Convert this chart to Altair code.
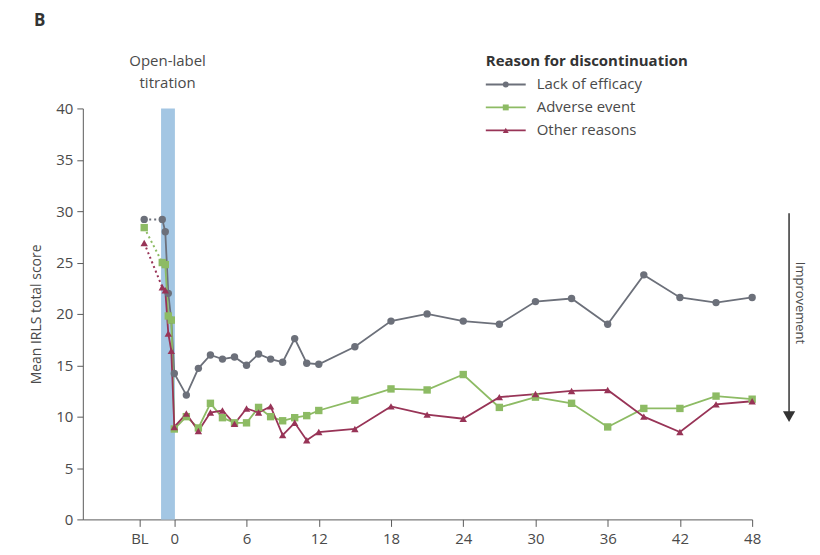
import altair as alt
import pandas as pd

# ---------------- data ----------------
series_names = ["Lack of efficacy", "Adverse event", "Other reasons"]
series_colors = ["#6c707a", "#8dbb64", "#983457"]
series_shapes = ["circle", "square", "triangle-up"]

bl_week = -2.5
titration_weeks = [-1.0, -0.75, -0.5, -0.25]
main_weeks = [0, 1, 2, 3, 4, 5, 6, 7, 8, 9, 10, 11, 12, 15, 18, 21, 24, 27, 30, 33, 36, 39, 42, 45, 48]

bl_values = [29.2, 28.4, 26.9]

lack_titration = [29.2, 28.0, 22.0, 19.4]
lack_main = [14.2, 12.1, 14.7, 16.0, 15.6, 15.8, 15.0, 16.1, 15.6, 15.3, 17.6, 15.2, 15.1,
             16.8, 19.3, 20.0, 19.3, 19.0, 21.2, 21.5, 19.0, 23.8, 21.6, 21.1, 21.6]

adverse_titration = [25.0, 24.8, 19.8, 19.4]
adverse_main = [8.8, 10.0, 8.9, 11.3, 9.9, 9.4, 9.4, 10.9, 10.0, 9.6, 9.9, 10.1, 10.6,
                11.6, 12.7, 12.6, 14.1, 10.9, 11.9, 11.3, 9.0, 10.8, 10.8, 12.0, 11.7]

other_titration = [22.6, 22.3, 18.1, 16.4]
other_main = [9.0, 10.3, 8.6, 10.4, 10.6, 9.3, 10.8, 10.4, 11.0, 8.2, 9.4, 7.7, 8.5,
              8.8, 11.0, 10.2, 9.8, 11.9, 12.2, 12.5, 12.6, 10.0, 8.5, 11.2, 11.5]

band_start = [-1.1]
band_end = [0.05]

x_tick_values = [-2.9, 0, 6, 12, 18, 24, 30, 36, 42, 48]
y_tick_values = [0, 5, 10, 15, 20, 25, 30, 35, 40]

# ---------------- tables ----------------
titr = [lack_titration, adverse_titration, other_titration]
mains = [lack_main, adverse_main, other_main]

solid_rows, dotted_rows, point_rows = [], [], []
for i, name in enumerate(series_names):
    dotted_rows.append({"week": bl_week, "value": bl_values[i], "series": name})
    dotted_rows.append({"week": titration_weeks[0], "value": titr[i][0], "series": name})
    point_rows.append({"week": bl_week, "value": bl_values[i], "series": name})
    for w, v in zip(titration_weeks + main_weeks, titr[i] + mains[i]):
        solid_rows.append({"week": w, "value": v, "series": name})
        point_rows.append({"week": w, "value": v, "series": name})

solid_df = pd.DataFrame(solid_rows)
dotted_df = pd.DataFrame(dotted_rows)
point_df = pd.DataFrame(point_rows)
band_df = pd.DataFrame({"x": band_start, "x2": band_end, "y": [0], "y2": [40]})

FONT = "Open Sans"
TXT = "#4a4a4a"

x_scale = alt.Scale(domain=[-7.6, 48], nice=False, zero=False)
y_scale = alt.Scale(domain=[0, 40], nice=False)
color_scale = alt.Scale(domain=series_names, range=series_colors)
shape_scale = alt.Scale(domain=series_names, range=series_shapes)

x_axis = alt.Axis(values=x_tick_values, title=None, grid=False,
                  labelExpr="datum.value < -1 ? 'BL' : datum.label",
                  tickSize=7, labelPadding=5, labelFontSize=15, labelFont=FONT,
                  labelColor=TXT, domainColor="#5a5a5a", tickColor="#5a5a5a",
                  labelFlush=False)
y_axis = alt.Axis(values=y_tick_values, title="Mean IRLS total score", grid=False,
                  tickSize=6, labelPadding=4, labelFontSize=15, labelFont=FONT,
                  labelColor=TXT, domainColor="#5a5a5a", tickColor="#5a5a5a",
                  titleFont=FONT, titleFontSize=14, titleFontWeight="normal",
                  titleColor=TXT, titlePadding=12)

band = alt.Chart(band_df).mark_rect(color="#a3c6e3").encode(
    x=alt.X("x:Q", scale=x_scale, axis=x_axis),
    x2="x2:Q",
    y=alt.Y("y:Q", scale=y_scale, axis=y_axis),
    y2="y2:Q",
)

dotted = alt.Chart(dotted_df).mark_line(strokeDash=[2, 3], strokeWidth=2).encode(
    x=alt.X("week:Q", scale=x_scale),
    y=alt.Y("value:Q", scale=y_scale),
    color=alt.Color("series:N", scale=color_scale, legend=None),
    detail="series:N",
)

solid = alt.Chart(solid_df).mark_line(strokeWidth=1.8).encode(
    x=alt.X("week:Q", scale=x_scale),
    y=alt.Y("value:Q", scale=y_scale),
    color=alt.Color("series:N", scale=color_scale, legend=None),
    detail="series:N",
)

points = alt.Chart(point_df).mark_point(filled=True, size=55, opacity=1).encode(
    x=alt.X("week:Q", scale=x_scale),
    y=alt.Y("value:Q", scale=y_scale),
    color=alt.Color("series:N", scale=color_scale, legend=None),
    shape=alt.Shape("series:N", scale=shape_scale, legend=None),
)

# ---------------- manual legend & annotations ----------------
layers = [band, dotted, solid, points]

legend_x0, legend_y0, legend_dy = 404, -24, 23
layers.append(
    alt.Chart(pd.DataFrame({"t": ["Reason for discontinuation"]})).mark_text(
        align="left", baseline="middle", font=FONT, fontSize=15, fontWeight="bold", color="#333"
    ).encode(text="t:N", x=alt.value(legend_x0), y=alt.value(legend_y0 - 24))
)
for i, name in enumerate(series_names):
    yy = legend_y0 + i * legend_dy
    layers.append(
        alt.Chart(pd.DataFrame({"s": [name]})).mark_rule(color=series_colors[i], strokeWidth=1.8).encode(
            x=alt.value(legend_x0), x2=alt.value(legend_x0 + 40), y=alt.value(yy)
        )
    )
    layers.append(
        alt.Chart(pd.DataFrame({"s": [name]})).mark_point(
            filled=True, size=35, opacity=1, shape=series_shapes[i], color=series_colors[i]
        ).encode(x=alt.value(legend_x0 + 20), y=alt.value(yy))
    )
    layers.append(
        alt.Chart(pd.DataFrame({"t": [name]})).mark_text(
            align="left", baseline="middle", font=FONT, fontSize=15, color=TXT
        ).encode(text="t:N", x=alt.value(legend_x0 + 51), y=alt.value(yy))
    )

layers.append(
    alt.Chart(pd.DataFrame({"t": ["Open-label", "titration"], "dy": [-48, -25]})).mark_text(
        align="center", baseline="middle", font=FONT, fontSize=15, color=TXT
    ).encode(text="t:N", x=alt.value(85), y=alt.Y("dy:Q", scale=None))
)
layers.append(
    alt.Chart(pd.DataFrame({"t": ["B"]})).mark_text(
        align="left", baseline="middle", font=FONT, fontSize=17, fontWeight="bold", color="#333"
    ).encode(text="t:N", x=alt.value(-49), y=alt.value(-88))
)
layers.append(
    alt.Chart(pd.DataFrame({"t": ["Improvement"]})).mark_text(
        align="center", baseline="middle", font=FONT, fontSize=13, color=TXT, angle=90
    ).encode(text="t:N", x=alt.value(719), y=alt.value(195))
)
layers.append(
    alt.Chart(pd.DataFrame({"t": ["arrow"]})).mark_rule(color="#333", strokeWidth=1.5).encode(
        x=alt.value(708), y=alt.value(105), y2=alt.value(306)
    )
)
layers.append(
    alt.Chart(pd.DataFrame({"t": ["arrowhead"]})).mark_point(
        filled=True, shape="triangle-down", size=150, color="#333", opacity=1
    ).encode(x=alt.value(708), y=alt.value(309))
)

chart = alt.layer(*layers).properties(
    width=671, height=412,
    autosize=alt.AutoSizeParams(type="none"),
    padding={"left": 75, "top": 100, "right": 60, "bottom": 32},
    background="white",
).configure_view(stroke=None)

chart.save("out.html", embed_options={"renderer": "svg", "actions": False})
